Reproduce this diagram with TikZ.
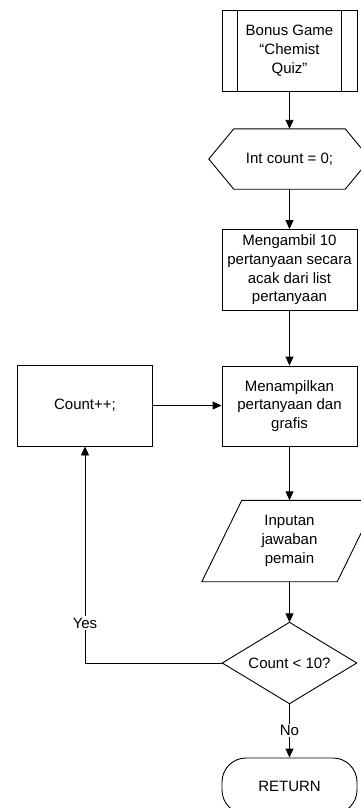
\documentclass[tikz,border=0pt]{standalone}
\usepackage{fontspec}
\setmainfont{Liberation Sans}
\usetikzlibrary{arrows.meta,calc}
\begin{document}
\begin{tikzpicture}[x=1pt,y=-1pt,
  every node/.style={font=\fontsize{15}{18.7}\selectfont, align=center, inner sep=0pt},
  ln/.style={line width=0.9pt},
  box/.style={ln, draw, rectangle, fill=white, minimum width=135pt, minimum height=81pt},
  ghost/.style={minimum width=#1},
  arr/.style={ln, -{Triangle[length=9pt,width=8pt]}},
  lbl/.style={fill=white, inner sep=1.5pt}]
\useasboundingbox (0,0) rectangle (360,808);

% start (subprocess)
\node[box] (start) at (289.5,50.5) {Bonus Game\\“Chemist\\Quiz”};
\draw[ln] ($(start.north west)+(16,0)$) -- ($(start.south west)+(16,0)$);
\draw[ln] ($(start.north east)+(-16,0)$) -- ($(start.south east)+(-16,0)$);

% init (hexagon)
\node[ghost=161pt, minimum height=60pt] (init) at (289.5,159) {Int count = 0;};
\draw[ln] (init.west) -- ($(init.north west)+(25,0)$) -- ($(init.north east)+(-25,0)$)
  -- (init.east) -- ($(init.south east)+(-25,0)$) -- ($(init.south west)+(25,0)$) -- cycle;

% fetch
\node[box] (fetch) at (289.5,270) {Mengambil 10\\pertanyaan secara\\acak dari list\\pertanyaan};

% show
\node[box, minimum height=80pt] (show) at (289.5,406) {Menampilkan\\pertanyaan dan\\grafis};

% inc
\node[box] (inc) at (85,405.5) {Count++;};

% input (parallelogram)
\node[ghost=135pt, minimum height=81pt] (input) at (289.5,541) {Inputan\\jawaban\\pemain};
\draw[ln] ($(input.north west)+(20,0)$) -- ($(input.north east)+(20,0)$)
  -- ($(input.south east)+(-20,0)$) -- ($(input.south west)+(-20,0)$) -- cycle;

% decision (diamond)
\node[ghost=134pt, minimum height=81pt] (dec) at (289.5,663) {Count < 10?};
\draw[ln] (dec.west) -- (dec.north) -- (dec.east) -- (dec.south) -- cycle;

% return (terminal, cut off by the lower edge)
\node[ln, draw, rounded corners=24pt, minimum width=135pt, minimum height=56pt] (ret) at (289.5,786) {RETURN};

% connectors
\draw[arr] (start.south) -- (init.north);
\draw[arr] (init.south) -- (fetch.north);
\draw[arr] (fetch.south) -- (show.north);
\draw[arr] (inc.east) -- (inc.east -| show.west);
\draw[arr] (show.south) -- (input.north);
\draw[arr] (input.south) -- (dec.north);
\draw[arr] (dec.west) -| (inc.south) node[lbl, pos=0.592] {Yes};
\draw[arr] (dec.south) -- (ret.north) node[lbl, midway] {No};
\end{tikzpicture}
\end{document}
